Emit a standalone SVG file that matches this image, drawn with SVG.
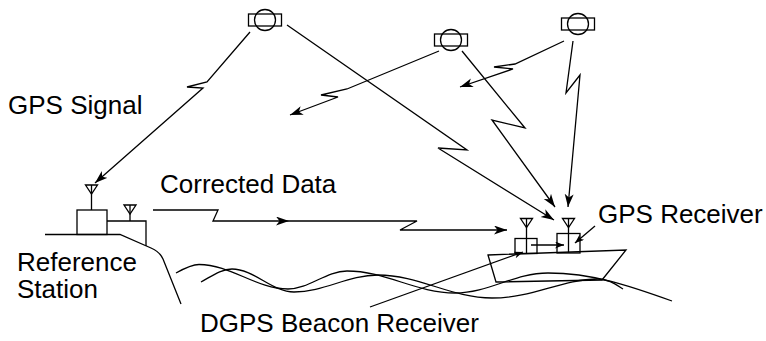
<svg xmlns="http://www.w3.org/2000/svg" width="766" height="341" viewBox="0 0 766 341">
  <style>
    .ln { fill: none; stroke: #000; stroke-width: 1.3; stroke-linejoin: miter; stroke-linecap: butt; }
    .sh { fill: #fff; stroke: #000; stroke-width: 1.3; }
    .lbl { font-family: "Liberation Sans", Arial, Helvetica, sans-serif; font-size: 26px; fill: #000; }
  </style>
  <defs>
    <marker id="arrow" markerUnits="userSpaceOnUse" markerWidth="14" markerHeight="10" refX="13" refY="4.5" orient="auto">
      <path d="M0,0 L13,4.5 L0,9 L3.5,4.5 Z" fill="#000"/>
    </marker>
    <marker id="arrowSmall" markerUnits="userSpaceOnUse" markerWidth="10" markerHeight="8" refX="9" refY="3.5" orient="auto">
      <path d="M0,0 L9,3.5 L0,7 L2.5,3.5 Z" fill="#000"/>
    </marker>
    <!-- satellite symbol: body bar with round core -->
    <g id="satIcon">
      <rect x="-16.5" y="-6" width="33" height="12" class="sh"/>
      <circle cx="0" cy="0" r="10.5" fill="none" stroke="#000" stroke-width="1.3"/>
    </g>
    <!-- antenna: inverted triangle with mast -->
    <g id="antenna">
      <path d="M-6,0 L6,0 L0,9 Z" class="ln"/>
    </g>
  </defs>

  <!-- satellites -->
  <g id="sat1"><use href="#satIcon" x="265" y="20"/></g>
  <g id="sat2"><use href="#satIcon" x="451" y="40"/></g>
  <g id="sat3"><use href="#satIcon" x="578" y="24"/></g>

  <!-- reference station on the shore -->
  <g id="ref-station">
    <path class="ln" d="M45,234.5 L120,234.5 L151,248 Q160,252 163,259 L181,304"/>
    <rect x="77" y="210" width="30" height="24.5" class="ln"/>
    <path class="ln" d="M107,221 L146,221 L146,246"/>
    <use href="#antenna" x="91.5" y="185"/>
    <line x1="91.5" y1="185" x2="91.5" y2="210" class="ln"/>
    <use href="#antenna" x="130" y="205"/>
    <line x1="130" y1="205" x2="130" y2="221" class="ln"/>
  </g>

  <!-- sea -->
  <g id="waves">
    <path class="ln" d="M176,273 C185,268 192,264.5 199,264.5 C231,264.5 256,289 288,289 C309,289 326,271 347,271 C386,271 416,293 455,293 C489,293 514,273 548,273 C593,273 630,286 672,301"/>
    <path class="ln" d="M201,282 C212,276 221,269 232,269 C254,269 272,292 294,292 C324,292 348,275 378,275 C419,275 451,298 492,298 C533,298 562,279 598,279 C608,279 615,284 623,289"/>
  </g>

  <!-- ship with beacon receiver and GPS receiver -->
  <g id="ship">
    <path class="ln" d="M488,255 L626,250 L602,280 L496,282 Z"/>
    <rect x="515" y="238.5" width="22" height="15" class="ln"/>
    <rect x="557" y="233.5" width="23" height="19.5" class="ln"/>
    <use href="#antenna" x="526.5" y="218.5"/>
    <line x1="526.5" y1="218.5" x2="526.5" y2="253.5" class="ln"/>
    <use href="#antenna" x="568.5" y="218.5"/>
    <line x1="568.5" y1="218.5" x2="568.5" y2="252.5" class="ln"/>
  </g>

  <!-- signal paths -->
  <g id="connectors">
    <path class="ln" marker-end="url(#arrow)" d="M250,32 L207,82 L187,87 L203,88 L95,183"/>
    <path class="ln" marker-end="url(#arrow)" d="M287,25 L467,150 L438,148 L554,220"/>
    <path class="ln" marker-end="url(#arrow)" d="M439,51 L347,89 L321,95 L338,97 L290,115"/>
    <path class="ln" marker-end="url(#arrow)" d="M462,51 L525,128 L492,120 L555,207"/>
    <path class="ln" marker-end="url(#arrow)" d="M564,41 L515,64 L494,67 L513,69 L460,87"/>
    <path class="ln" marker-end="url(#arrow)" d="M573,41 L566,93 L580,75 L568,207"/>
    <path class="ln" marker-end="url(#arrow)" d="M153,210 L218,210 L213,221 L289,221"/>
    <path class="ln" marker-end="url(#arrow)" d="M289,221 L417,221 L400,230 L507,230"/>
    <path class="ln" marker-end="url(#arrowSmall)" d="M531,245 L564,245"/>
    <path class="ln" marker-end="url(#arrowSmall)" d="M595,226 L575,243"/>
    <path class="ln" marker-end="url(#arrowSmall)" d="M370,307 L523,252"/>
  </g>

  <!-- labels -->
  <g id="labels">
    <text class="lbl" x="8" y="114">GPS Signal</text>
    <text class="lbl" x="160" y="193">Corrected Data</text>
    <text class="lbl" x="598" y="223">GPS Receiver</text>
    <text class="lbl" x="17" y="271">Reference</text>
    <text class="lbl" x="17" y="298">Station</text>
    <text class="lbl" x="200" y="332">DGPS Beacon Receiver</text>
  </g>
</svg>
